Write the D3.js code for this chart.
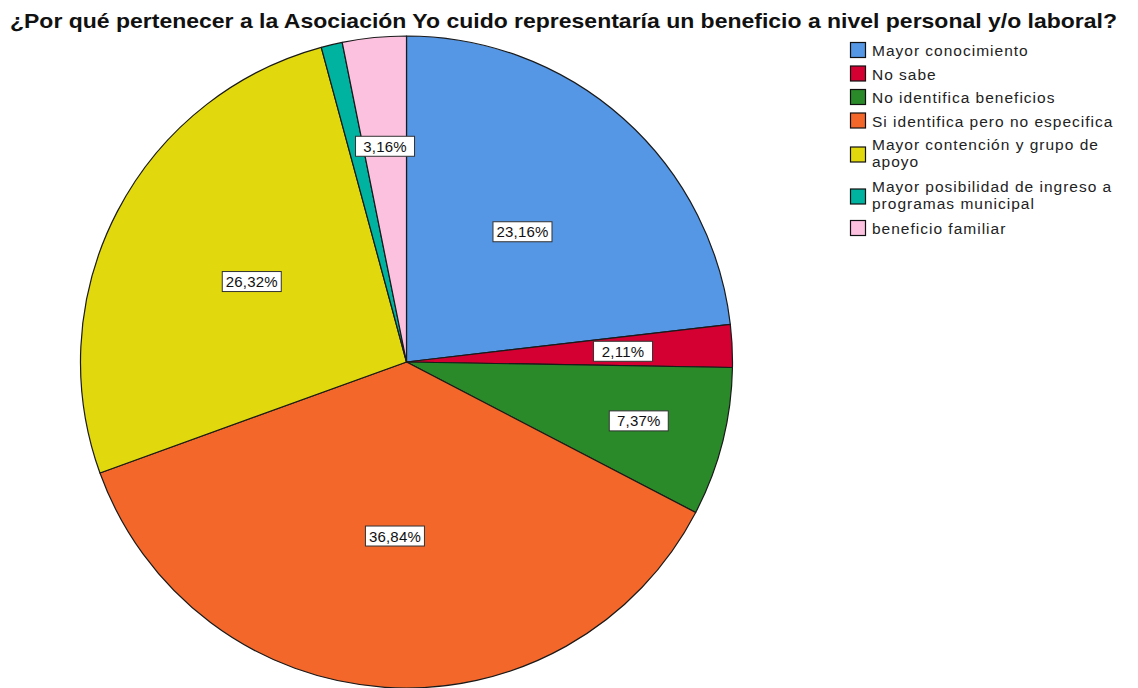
<!DOCTYPE html>
<html>
<head>
<meta charset="utf-8">
<script src="https://cdn.jsdelivr.net/npm/d3@7"></script>
<style>
  html, body { margin: 0; padding: 0; background: #ffffff; }
  svg { display: block; font-family: Arial, "Liberation Sans", sans-serif; }
</style>
</head>
<body>
<svg id="chart" width="1138" height="688"></svg>
<script>
// Survey answers, share of respondents (%)
const categories = [
  "Mayor conocimiento",
  "No sabe",
  "No identifica beneficios",
  "Si identifica pero no especifica",
  "Mayor contención y grupo de apoyo",
  "Mayor posibilidad de ingreso a programas municipal",
  "beneficio familiar"
];
const percents = [23.16, 2.11, 7.37, 36.84, 26.32, 1.05, 3.16];
const showLabel = [true, true, true, true, true, false, true];
const sliceColors = ["#5596e5", "#d50032", "#2a8a2a", "#f3672b", "#e2d80e", "#00b2a0", "#fdc1e0"];
// Legend text, wrapped as in the legend box
const legendLines = [
  ["Mayor conocimiento"],
  ["No sabe"],
  ["No identifica beneficios"],
  ["Si identifica pero no especifica"],
  ["Mayor contención y grupo de", "apoyo"],
  ["Mayor posibilidad de ingreso a", "programas municipal"],
  ["beneficio familiar"]
];
const title = "¿Por qué pertenecer a la Asociación Yo cuido representaría un beneficio a nivel personal y/o laboral?";

const svg = d3.select("#chart");

// Title
svg.append("text")
  .attr("x", 10).attr("y", 28)
  .attr("font-size", 20.5).attr("font-weight", "bold")
  .attr("fill", "#111")
  .attr("textLength", 1107).attr("lengthAdjust", "spacingAndGlyphs")
  .text(title);

// Pie
const cx = 406.5, cy = 362, R = 326;
const data = categories.map((c, i) => ({ name: c, value: percents[i], color: sliceColors[i], label: showLabel[i] }));

const pie = d3.pie().value(d => d.value).sort(null);
const arcs = pie(data);
const arcGen = d3.arc().innerRadius(0).outerRadius(R);

const g = svg.append("g").attr("transform", `translate(${cx},${cy})`);
g.selectAll("path.slice")
  .data(arcs)
  .join("path")
  .attr("class", "slice")
  .attr("d", arcGen)
  .attr("fill", d => d.data.color)
  .attr("stroke", "#1a1a1a")
  .attr("stroke-width", 1.2)
  .attr("stroke-linejoin", "round");

// Percentage labels: large slices nearer the centre, thin ones further out
function labelRadius(v) {
  if (v >= 20) return 0.535 * R;
  if (v >= 5) return 0.735 * R;
  return 0.665 * R;
}
const fmt = v => v.toFixed(2).replace(".", ",") + "%";

const labels = g.selectAll("g.lbl")
  .data(arcs.filter(d => d.data.label))
  .join("g")
  .attr("class", "lbl")
  .attr("transform", d => {
    const a = (d.startAngle + d.endAngle) / 2;
    const r = labelRadius(d.data.value);
    return `translate(${r * Math.sin(a)},${-r * Math.cos(a)})`;
  });

labels.append("rect")
  .attr("x", -29.5).attr("y", -10)
  .attr("width", 59).attr("height", 20)
  .attr("fill", "#ffffff")
  .attr("stroke", "#333")
  .attr("stroke-width", 1);

labels.append("text")
  .attr("text-anchor", "middle")
  .attr("y", 5.5)
  .attr("font-size", 15)
  .attr("letter-spacing", 0.2)
  .attr("fill", "#111")
  .text(d => fmt(d.data.value));

// Legend
const legend = svg.append("g").attr("transform", "translate(850,0)");
let y = 42;
legendLines.forEach((lines, i) => {
  const blockH = lines.length * 17;
  const sqY = lines.length === 1 ? y : y + blockH / 2 - 7.5 + 1;
  legend.append("rect")
    .attr("x", 0.5).attr("y", sqY + 0.5)
    .attr("width", 15).attr("height", 15)
    .attr("fill", sliceColors[i])
    .attr("stroke", "#111").attr("stroke-width", 1.2);
  lines.forEach((ln, j) => {
    legend.append("text")
      .attr("x", 22)
      .attr("y", y + 14 + j * 17)
      .attr("font-size", 15.5)
      .attr("letter-spacing", 1.0)
      .attr("fill", "#222")
      .text(ln);
  });
  y += lines.length === 1 ? 23.5 : 17 * lines.length + 8;
});
</script>
</body>
</html>
